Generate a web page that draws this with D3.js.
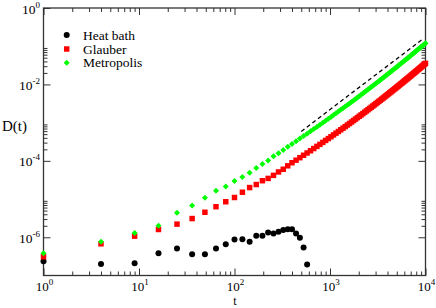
<!DOCTYPE html>
<html><head><meta charset="utf-8">
<script src="https://cdn.jsdelivr.net/npm/d3@7"></script>
<style>html,body{margin:0;padding:0;background:#fff;} svg{display:block;} text{font-family:"Liberation Serif","Times New Roman",serif;fill:#000;}</style>
</head><body><svg id="c" width="436" height="308"></svg>
<script>
const tValues = [1,4,9,16,25,36,49,64,81,100,121,144,169,196,225,256,289,324,361,400,441,484,529,576,625,676,729,784,841,900,961,1024,1089,1156,1225,1296,1369,1444,1521,1600,1681,1764,1849,1936,2025,2116,2209,2304,2401,2500,2601,2704,2809,2916,3025,3136,3249,3364,3481,3600,3721,3844,3969,4096,4225,4356,4489,4624,4761,4900,5041,5184,5329,5476,5625,5776,5929,6084,6241,6400,6561,6724,6889,7056,7225,7396,7569,7744,7921,8100,8281,8464,8649,8836,9025,9216,9409,9604,9801,10000];

const heatBath = [2.37e-7,2.0e-7,2.1e-7,3.8e-7,5.1e-7,3.6e-7,3.6e-7,5.1e-7,6.6e-7,8.8e-7,8.9e-7,7.6e-7,1.1e-6,1.1e-6,1.34e-6,1.26e-6,1.39e-6,1.54e-6,1.63e-6,1.63e-6,1.26e-6,9.7e-7,5.4e-7,1.94e-7];

const glauber = [3.09e-7,6.76e-7,1.07e-6,1.60e-6,2.21e-6,3.09e-6,4.52e-6,6.31e-6,8.51e-6,1.10e-5,1.51e-5,2.00e-5,2.40e-5,3.02e-5,3.47e-5,4.17e-5,5.13e-5,6.03e-5,7.41e-5,
8.92e-5,1.04e-4,1.21e-4,1.40e-4,1.61e-4,1.84e-4,2.10e-4,2.39e-4,2.70e-4,3.04e-4,3.42e-4,3.83e-4,4.28e-4,4.77e-4,5.30e-4,5.87e-4,6.49e-4,7.16e-4,7.88e-4,8.66e-4,9.49e-4,
1.04e-3,1.135e-3,1.24e-3,1.35e-3,1.47e-3,1.59e-3,1.72e-3,1.87e-3,2.02e-3,2.18e-3,2.35e-3,2.53e-3,2.72e-3,2.92e-3,3.14e-3,3.37e-3,3.60e-3,3.86e-3,4.12e-3,4.40e-3,
4.70e-3,5.01e-3,5.34e-3,5.68e-3,6.04e-3,6.42e-3,6.82e-3,7.23e-3,7.66e-3,8.12e-3,8.60e-3,9.10e-3,9.63e-3,1.02e-2,1.07e-2,1.13e-2,1.20e-2,1.26e-2,1.33e-2,1.40e-2,
1.47e-2,1.55e-2,1.63e-2,1.71e-2,1.80e-2,1.89e-2,1.98e-2,2.08e-2,2.18e-2,2.28e-2,2.39e-2,2.50e-2,2.62e-2,2.74e-2,2.87e-2,3.00e-2,3.13e-2,3.27e-2,3.42e-2,3.56e-2];

const metropolis = [3.80e-7,7.59e-7,1.29e-6,2.0e-6,4.37e-6,6.82e-6,1.08e-5,1.64e-5,2.14e-5,2.95e-5,3.76e-5,4.90e-5,6.46e-5,8.32e-5,1.02e-4,1.32e-4,1.58e-4,1.91e-4,2.34e-4,
2.78e-4,3.27e-4,3.83e-4,4.45e-4,5.14e-4,5.92e-4,6.78e-4,7.73e-4,8.78e-4,9.93e-4,1.12e-3,1.26e-3,1.41e-3,1.575e-3,1.75e-3,1.95e-3,2.16e-3,2.39e-3,2.63e-3,2.89e-3,3.18e-3,
3.49e-3,3.81e-3,4.16e-3,4.54e-3,4.94e-3,5.37e-3,5.82e-3,6.31e-3,6.82e-3,7.37e-3,7.95e-3,8.56e-3,9.22e-3,9.91e-3,1.06e-2,1.14e-2,1.22e-2,1.31e-2,1.40e-2,1.49e-2,
1.60e-2,1.70e-2,1.81e-2,1.93e-2,2.05e-2,2.18e-2,2.31e-2,2.45e-2,2.60e-2,2.75e-2,2.92e-2,3.08e-2,3.26e-2,3.45e-2,3.64e-2,3.84e-2,4.05e-2,4.27e-2,4.49e-2,4.73e-2,
4.98e-2,5.23e-2,5.50e-2,5.77e-2,6.06e-2,6.36e-2,6.67e-2,7.00e-2,7.33e-2,7.68e-2,8.04e-2,8.41e-2,8.80e-2,9.20e-2,9.62e-2,0.1004,0.1049,0.1095,0.1143,0.1192];

const refLineT = [500, 9400];
const refLineD = [5.9e-4, 0.155];

const xTickValues = [1, 10, 100, 1000, 10000];
const xTickExponents = ["0", "1", "2", "3", "4"];
const yTickValues = [1, 1e-2, 1e-4, 1e-6];
const yTickExponents = ["0", "-2", "-4", "-6"];
const seriesNames = ["Heat bath", "Glauber", "Metropolis"];
const seriesColors = ["#000000", "#ff0000", "#00ff00"];

const svg = d3.select("#c");
const L = 43.5, R = 425.5, T = 8, B = 275.5;
const x = d3.scaleLog().domain([1, 1e4]).range([L, R]);
const y = d3.scaleLog().domain([1e-7, 1]).range([B, T]);

const xMinor = [];
xTickValues.slice(0, -1).forEach(v => { for (let m = 2; m <= 9; m++) xMinor.push(v * m); });
const yMinor = [];
yTickValues.forEach(v => { for (let m = 2; m <= 9; m++) { const w = v * m; if (w < 1) yMinor.push(w); } });

const axisColor = "#333";
function ax(gen, vals, size, tr) {
  const g = svg.append("g").attr("transform", tr)
    .call(gen.tickValues(vals).tickSizeInner(-size).tickSizeOuter(0).tickFormat(() => ""));
  g.select(".domain").remove();
  g.selectAll("line").attr("stroke", axisColor).attr("stroke-width", 1);
}
ax(d3.axisBottom(x), xTickValues, 7, `translate(0,${B})`);
ax(d3.axisBottom(x), xMinor, 4, `translate(0,${B})`);
ax(d3.axisTop(x), xTickValues, 7, `translate(0,${T})`);
ax(d3.axisTop(x), xMinor, 4, `translate(0,${T})`);
ax(d3.axisLeft(y), yTickValues, 7, `translate(${L},0)`);
ax(d3.axisLeft(y), yMinor, 4, `translate(${L},0)`);
ax(d3.axisRight(y), yTickValues, 7, `translate(${R},0)`);
ax(d3.axisRight(y), yMinor, 4, `translate(${R},0)`);

svg.append("rect").attr("x", L).attr("y", T).attr("width", R - L).attr("height", B - T)
  .attr("fill", "none").attr("stroke", axisColor).attr("stroke-width", 1.3);

// x tick labels
xTickValues.forEach((v, i) => {
  const t = svg.append("text").attr("x", x(v) + 1).attr("y", 291).attr("text-anchor", "middle").attr("font-size", 13);
  t.append("tspan").text("10");
  t.append("tspan").attr("dy", -6).attr("font-size", 9).text(xTickExponents[i]);
});
// y tick labels
yTickValues.forEach((v, i) => {
  const t = svg.append("text").attr("x", 40).attr("y", y(v) + 5.5).attr("text-anchor", "end").attr("font-size", 13.5);
  t.append("tspan").text("10");
  t.append("tspan").attr("dy", -6).attr("font-size", 9).text(yTickExponents[i]);
});

svg.append("text").attr("x", 2).attr("y", 131).attr("font-size", 15).text("D(t)");
svg.append("text").attr("x", 235).attr("y", 305).attr("text-anchor", "middle").attr("font-size", 12).text("t");

// reference dashed line
svg.append("path")
  .datum(refLineT.map((t, i) => [t, refLineD[i]]))
  .attr("d", d3.line().x(d => x(d[0])).y(d => y(d[1])))
  .attr("fill", "none").attr("stroke", "#000").attr("stroke-width", 1.3).attr("stroke-dasharray", "4,3");

const plot = svg.append("g");
const sq = d3.symbol(d3.symbolSquare, 30);
const dm = d3.symbol(d3.symbolSquare, 18);

plot.append("g").selectAll("circle").data(heatBath).join("circle")
  .attr("cx", (d, i) => x(tValues[i])).attr("cy", d => y(d)).attr("r", 3).attr("fill", seriesColors[0]);
plot.append("g").selectAll("path").data(glauber).join("path")
  .attr("d", sq).attr("transform", (d, i) => `translate(${x(tValues[i])},${y(d)})`).attr("fill", seriesColors[1]);
plot.append("g").selectAll("path").data(metropolis).join("path")
  .attr("d", dm).attr("transform", (d, i) => `translate(${x(tValues[i])},${y(d)}) rotate(45)`).attr("fill", seriesColors[2]);

// legend
const lg = svg.append("g");
const lgY = [35, 49, 62.7];
seriesNames.forEach((name, i) => {
  const cx = 66.7, cy = lgY[i];
  if (i === 0) lg.append("circle").attr("cx", cx).attr("cy", cy).attr("r", 3).attr("fill", seriesColors[0]);
  else if (i === 1) lg.append("path").attr("d", sq).attr("transform", `translate(${cx},${cy})`).attr("fill", seriesColors[1]);
  else lg.append("path").attr("d", dm).attr("transform", `translate(${cx},${cy}) rotate(45)`).attr("fill", seriesColors[2]);
  lg.append("text").attr("x", 83).attr("y", cy + 4.5).attr("font-size", 13.5).text(name);
});
</script></body></html>
